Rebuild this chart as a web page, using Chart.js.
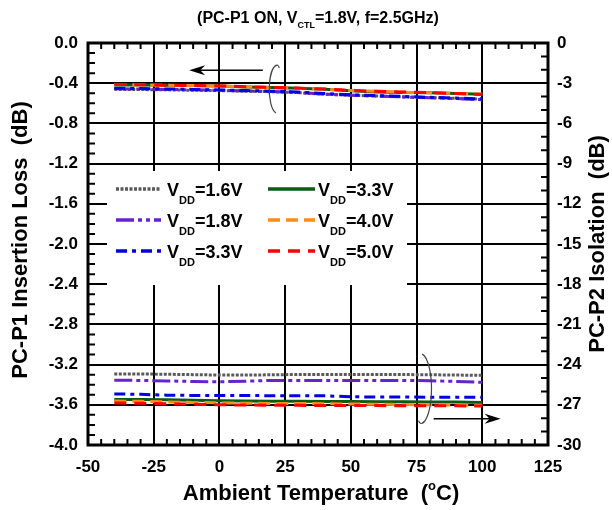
<!DOCTYPE html>
<html><head><meta charset="utf-8">
<script src="https://cdn.jsdelivr.net/npm/chart.js@4.4.0/dist/chart.umd.min.js"></script>
<style>html,body{margin:0;padding:0;background:#fff}#wrap{width:612px;height:510px;position:relative}</style>
</head><body><div id="wrap"><canvas id="c" width="612" height="510"></canvas></div>
<script>
// ---- data ----
const temps = [-40,-30,-20,-10,0,10,20,30,40,50,60,70,80,90,100];
const vddLabels = ['1.6V','1.8V','3.3V','3.3V','4.0V','5.0V'];
// Insertion loss (left axis, dB)
const il16 = [-0.461,-0.463,-0.466,-0.470,-0.474,-0.479,-0.485,-0.494,-0.510,-0.520,-0.527,-0.536,-0.543,-0.551,-0.560];
const il18 = [-0.455,-0.458,-0.462,-0.466,-0.471,-0.477,-0.483,-0.492,-0.508,-0.520,-0.528,-0.537,-0.545,-0.553,-0.565];
const il33b = [-0.450,-0.453,-0.457,-0.462,-0.467,-0.473,-0.479,-0.488,-0.503,-0.515,-0.523,-0.532,-0.540,-0.548,-0.556];
const il33g = [-0.418,-0.418,-0.420,-0.424,-0.428,-0.437,-0.442,-0.451,-0.460,-0.474,-0.488,-0.493,-0.496,-0.503,-0.510];
const il40 = [-0.412,-0.416,-0.421,-0.424,-0.428,-0.436,-0.443,-0.450,-0.459,-0.472,-0.481,-0.489,-0.495,-0.502,-0.508];
const il50 = [-0.410,-0.415,-0.420,-0.423,-0.427,-0.435,-0.442,-0.449,-0.458,-0.472,-0.480,-0.488,-0.494,-0.502,-0.512];
// Isolation (right axis, dB)
const iso16 = [-24.70,-24.70,-24.72,-24.75,-24.78,-24.78,-24.76,-24.74,-24.74,-24.74,-24.74,-24.74,-24.76,-24.78,-24.80];
const iso18 = [-25.17,-25.18,-25.22,-25.26,-25.28,-25.24,-25.18,-25.18,-25.18,-25.18,-25.18,-25.18,-25.20,-25.26,-25.32];
const iso33b = [-26.19,-26.22,-26.28,-26.30,-26.30,-26.31,-26.32,-26.32,-26.33,-26.40,-26.42,-26.42,-26.43,-26.43,-26.44];
const iso33g = [-26.60,-26.61,-26.63,-26.66,-26.70,-26.72,-26.73,-26.74,-26.75,-26.76,-26.77,-26.78,-26.79,-26.80,-26.82];
const iso40 = [-26.72,-26.74,-26.78,-26.82,-26.86,-26.88,-26.90,-26.90,-26.92,-26.94,-26.96,-26.98,-27.00,-27.02,-27.04];
const iso50 = [-26.87,-26.88,-26.92,-26.96,-27.00,-27.02,-27.03,-27.04,-27.05,-27.06,-27.06,-27.07,-27.08,-27.08,-27.09];

// ---- styles ----
const FONT = '"Liberation Sans", Arial, sans-serif';
const styles = [
  {color:'#5a5a5a', dash:[3,1.5]},
  {color:'#6622cc', dash:[18,4,4,4,4,4]},
  {color:'#0000e6', dash:[11,5,4,5]},
  {color:'#0a5c14', dash:[]},
  {color:'#ff8c1a', dash:[12,6]},
  {color:'#ff0000', dash:[12,8]}
];
const ilSeries = [il16, il18, il33b, il33g, il40, il50];
const isoSeries = [iso16, iso18, iso33b, iso33g, iso40, iso50];

const datasets = [];
for (let i = 5; i >= 0; i--) {
  const st = styles[i];
  datasets.push({label:'IL '+vddLabels[i], yAxisID:'y', data: temps.map((t,k)=>({x:t,y:ilSeries[i][k]})),
    borderColor: st.color, borderDash: st.dash, borderWidth: 3, pointRadius: 0, fill:false, tension:0});
}
for (let i = 5; i >= 0; i--) {
  const st = styles[i];
  datasets.push({label:'ISO '+vddLabels[i], yAxisID:'y2', data: temps.map((t,k)=>({x:t,y:isoSeries[i][k]})),
    borderColor: st.color, borderDash: st.dash, borderWidth: 3, pointRadius: 0, fill:false, tension:0});
}

function rich(ctx, parts, x, y, align) {
  let total = 0;
  parts.forEach(p => { ctx.font = 'bold ' + p[1] + 'px ' + FONT; p.w = ctx.measureText(p[0]).width; total += p.w; });
  let cx = align === 'center' ? x - total / 2 : x;
  ctx.textAlign = 'left';
  parts.forEach(p => { ctx.font = 'bold ' + p[1] + 'px ' + FONT; ctx.fillText(p[0], cx, y + p[2]); cx += p.w; });
}

const decor = {
  id: 'decor',
  afterDatasetsDraw(chart) {
    const ctx = chart.ctx;
    const a = chart.chartArea;
    // legend
    ctx.save();
    ctx.fillStyle = '#fff';
    ctx.fillRect(107, 171, 300, 114);
    const cols = [{lx0:116, lx1:161, tx:167}, {lx0:268, lx1:315, tx:318}];
    const rowsY = [189, 220, 251];
    for (let i = 0; i < 6; i++) {
      const c = cols[Math.floor(i / 3)], yy = rowsY[i % 3], st = styles[i];
      ctx.strokeStyle = st.color; ctx.lineWidth = 3.5; ctx.setLineDash(st.dash);
      ctx.beginPath(); ctx.moveTo(c.lx0, yy); ctx.lineTo(c.lx1, yy); ctx.stroke();
      ctx.setLineDash([]);
      ctx.fillStyle = '#000'; ctx.textBaseline = 'alphabetic';
      rich(ctx, [['V',18,0],['DD',11,8],['='+vddLabels[i],18,0]], c.tx, yy + 7, 'left');
    }
    ctx.restore();
  },
  afterDraw(chart) {
    const ctx = chart.ctx;
    const a = chart.chartArea;
    const xs = chart.scales.x, ys = chart.scales.y, y2 = chart.scales.y2;
    ctx.save();
    ctx.strokeStyle = '#000';
    // minor ticks
    ctx.lineWidth = 2;
    ctx.beginPath();
    for (let v = -45; v < 125; v += 5) {
      if (Math.abs(v % 25) < 1e-6) continue;
      const px = xs.getPixelForValue(v);
      ctx.moveTo(px, a.bottom); ctx.lineTo(px, a.bottom - 6);
      ctx.moveTo(px, a.top); ctx.lineTo(px, a.top + 6);
    }
    for (let k = 1; k < 40; k++) {
      if (k % 4 === 0) continue;
      const py = ys.getPixelForValue(-k * 0.1);
      ctx.moveTo(a.left, py); ctx.lineTo(a.left + 7, py);
    }
    for (let k = 1; k < 30; k++) {
      if (k % 3 === 0) continue;
      const py = y2.getPixelForValue(-k);
      ctx.moveTo(a.right, py); ctx.lineTo(a.right - 7, py);
    }
    ctx.stroke();
    // frame
    ctx.lineWidth = 3;
    ctx.strokeRect(a.left, a.top, a.right - a.left, a.bottom - a.top);

    // annotations: arrows and brackets
    ctx.lineWidth = 1.5;
    ctx.strokeStyle = '#000'; ctx.fillStyle = '#000';
    const arrow = (x0, x1, yv, scale) => {
      const p0 = xs.getPixelForValue(x0), p1 = xs.getPixelForValue(x1), py = scale.getPixelForValue(yv);
      const dir = Math.sign(p1 - p0);
      ctx.beginPath(); ctx.moveTo(p0, py); ctx.lineTo(p1 - dir * 10, py); ctx.stroke();
      ctx.beginPath(); ctx.moveTo(p1, py); ctx.lineTo(p1 - dir * 16, py - 5); ctx.lineTo(p1 - dir * 11, py); ctx.lineTo(p1 - dir * 16, py + 5); ctx.closePath(); ctx.fill();
    };
    arrow(16.5, -11.5, -0.27, ys);
    arrow(81.5, 107, -3.74, ys);
    ctx.strokeStyle = '#444'; ctx.lineWidth = 1.2;
    // top bracket "("
    let cx = xs.getPixelForValue(22), cy = ys.getPixelForValue(-0.46);
    ctx.beginPath(); ctx.ellipse(cx, cy, 8, 24, 0, Math.PI * 0.55, Math.PI * 1.45); ctx.stroke();
    ctx.beginPath(); ctx.moveTo(cx - 2.5, cy - 23); ctx.quadraticCurveTo(cx + 1, cy - 26, cx + 2, cy - 21); ctx.stroke();
    // bottom bracket ")"
    cx = xs.getPixelForValue(76.5); cy = ys.getPixelForValue(-3.44);
    ctx.beginPath(); ctx.ellipse(cx, cy, 11, 35, 0, -Math.PI * 0.45, Math.PI * 0.45); ctx.stroke();
    ctx.beginPath(); ctx.moveTo(cx + 3.5, cy + 33); ctx.quadraticCurveTo(cx, cy + 37, cx - 2, cy + 32); ctx.stroke();

    // titles
    ctx.fillStyle = '#000';
    ctx.textBaseline = 'alphabetic';
    rich(ctx, [['(PC-P1 ON, V',16,0],['CTL',9,5],['=1.8V, f=2.5GHz)',16,0]], 318, 23, 'center');
    rich(ctx, [['Ambient Temperature  (',22,0],['o',13,-10],['C)',22,0]], 321, 500, 'center');
    ctx.save();
    ctx.translate(21, 240); ctx.rotate(-Math.PI / 2);
    ctx.textBaseline = 'middle';
    rich(ctx, [['PC-P1 Insertion Loss  (dB)',22,0]], 0, 0, 'center');
    ctx.restore();
    ctx.save();
    ctx.translate(598, 244); ctx.rotate(-Math.PI / 2);
    ctx.textBaseline = 'middle';
    rich(ctx, [['PC-P2 Isolation  (dB)',22,0]], 0, 0, 'center');
    ctx.restore();
    ctx.restore();
  }
};

new Chart(document.getElementById('c'), {
  type: 'line',
  data: { datasets },
  options: {
    responsive: false, animation: false, devicePixelRatio: 1,
    layout: { padding: { top: 43, left: 0, right: 0, bottom: 0 } },
    plugins: { legend: { display: false }, tooltip: { enabled: false }, title: { display: false } },
    scales: {
      x: {
        type: 'linear', min: -50, max: 125,
        afterFit(s) { s.height = 65; },
        ticks: { stepSize: 25, color: '#000', padding: 12, maxRotation: 0, font: { family: FONT, size: 17, weight: 'bold' } },
        grid: { color: '#000', lineWidth: 2, drawTicks: false },
        border: { display: false }
      },
      y: {
        type: 'linear', position: 'left', min: -4, max: 0,
        afterFit(s) { s.width = 88; },
        ticks: { stepSize: 0.4, color: '#000', padding: 10, font: { family: FONT, size: 17, weight: 'bold' },
          callback: v => Number(v).toFixed(1) },
        grid: { color: '#000', lineWidth: 2, drawTicks: false },
        border: { display: false }
      },
      y2: {
        type: 'linear', position: 'right', min: -30, max: 0,
        afterFit(s) { s.width = 64; },
        ticks: { stepSize: 3, color: '#000', padding: 9, font: { family: FONT, size: 17, weight: 'bold' },
          callback: v => String(Math.round(v)) },
        grid: { display: false, drawTicks: false },
        border: { display: false }
      }
    }
  },
  plugins: [decor]
});
</script>
</body></html>
